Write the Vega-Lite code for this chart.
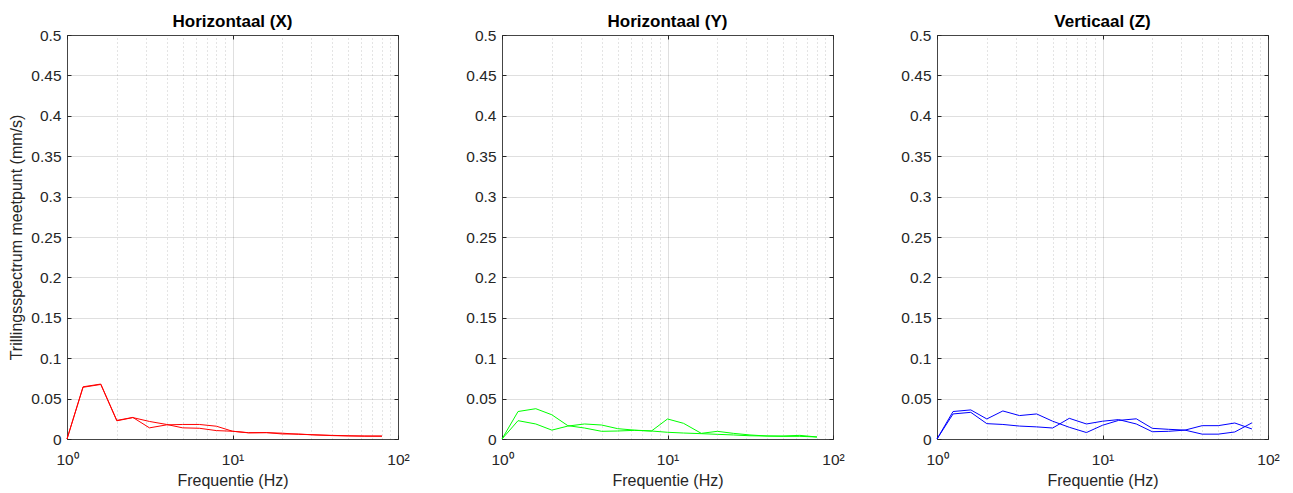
{
  "$schema": "https://vega.github.io/schema/vega-lite/v6.json",
  "background": "white",
  "padding": {"left": 8, "top": 12, "right": 5, "bottom": 5},
  "bounds": "flush",
  "spacing": 104,
  "datasets": {
    "X": [
      {"f":1,"s":"A","v":0},{"f":1.25,"s":"A","v":0.0646},{"f":1.6,"s":"A","v":0.068},{"f":2,"s":"A","v":0.023},{"f":2.5,"s":"A","v":0.0267},{"f":3.15,"s":"A","v":0.0138},{"f":4,"s":"A","v":0.0175},{"f":5,"s":"A","v":0.018},{"f":6.3,"s":"A","v":0.018},{"f":8,"s":"A","v":0.0158},{"f":10,"s":"A","v":0.0096},{"f":12.5,"s":"A","v":0.0078},{"f":16,"s":"A","v":0.008},{"f":20,"s":"A","v":0.0062},{"f":25,"s":"A","v":0.0062},{"f":31.5,"s":"A","v":0.005},{"f":40,"s":"A","v":0.0045},{"f":50,"s":"A","v":0.004},{"f":63,"s":"A","v":0.0037},{"f":80,"s":"A","v":0.0037},
      {"f":1,"s":"B","v":0},{"f":1.25,"s":"B","v":0.064},{"f":1.6,"s":"B","v":0.0675},{"f":2,"s":"B","v":0.0225},{"f":2.5,"s":"B","v":0.0265},{"f":3.15,"s":"B","v":0.0217},{"f":4,"s":"B","v":0.018},{"f":5,"s":"B","v":0.0138},{"f":6.3,"s":"B","v":0.0133},{"f":8,"s":"B","v":0.0104},{"f":10,"s":"B","v":0.0096},{"f":12.5,"s":"B","v":0.0076},{"f":16,"s":"B","v":0.0078},{"f":20,"s":"B","v":0.0072},{"f":25,"s":"B","v":0.0058},{"f":31.5,"s":"B","v":0.0052},{"f":40,"s":"B","v":0.0042},{"f":50,"s":"B","v":0.0038},{"f":63,"s":"B","v":0.0035},{"f":80,"s":"B","v":0.0034}
    ],
    "Y": [
      {"f":1,"s":"A","v":0},{"f":1.25,"s":"A","v":0.034},{"f":1.6,"s":"A","v":0.0375},{"f":2,"s":"A","v":0.03},{"f":2.5,"s":"A","v":0.0165},{"f":3.15,"s":"A","v":0.0136},{"f":4,"s":"A","v":0.0095},{"f":5,"s":"A","v":0.0099},{"f":6.3,"s":"A","v":0.0107},{"f":8,"s":"A","v":0.0099},{"f":10,"s":"A","v":0.0248},{"f":12.5,"s":"A","v":0.0194},{"f":16,"s":"A","v":0.007},{"f":20,"s":"A","v":0.0095},{"f":25,"s":"A","v":0.007},{"f":31.5,"s":"A","v":0.005},{"f":40,"s":"A","v":0.0037},{"f":50,"s":"A","v":0.0037},{"f":63,"s":"A","v":0.0045},{"f":80,"s":"A","v":0.0025},
      {"f":1,"s":"B","v":0},{"f":1.25,"s":"B","v":0.0227},{"f":1.6,"s":"B","v":0.0186},{"f":2,"s":"B","v":0.011},{"f":2.5,"s":"B","v":0.016},{"f":3.15,"s":"B","v":0.0186},{"f":4,"s":"B","v":0.0173},{"f":5,"s":"B","v":0.0128},{"f":6.3,"s":"B","v":0.011},{"f":8,"s":"B","v":0.0099},{"f":10,"s":"B","v":0.0083},{"f":12.5,"s":"B","v":0.0074},{"f":16,"s":"B","v":0.0066},{"f":20,"s":"B","v":0.0058},{"f":25,"s":"B","v":0.005},{"f":31.5,"s":"B","v":0.004},{"f":40,"s":"B","v":0.0037},{"f":50,"s":"B","v":0.0033},{"f":63,"s":"B","v":0.0033},{"f":80,"s":"B","v":0.0025}
    ],
    "Z": [
      {"f":1,"s":"A","v":0},{"f":1.25,"s":"A","v":0.034},{"f":1.6,"s":"A","v":0.036},{"f":2,"s":"A","v":0.0248},{"f":2.5,"s":"A","v":0.0347},{"f":3.15,"s":"A","v":0.029},{"f":4,"s":"A","v":0.031},{"f":5,"s":"A","v":0.022},{"f":6.3,"s":"A","v":0.0145},{"f":8,"s":"A","v":0.008},{"f":10,"s":"A","v":0.017},{"f":12.5,"s":"A","v":0.023},{"f":16,"s":"A","v":0.025},{"f":20,"s":"A","v":0.0132},{"f":25,"s":"A","v":0.012},{"f":31.5,"s":"A","v":0.011},{"f":40,"s":"A","v":0.0165},{"f":50,"s":"A","v":0.0165},{"f":63,"s":"A","v":0.0198},{"f":80,"s":"A","v":0.0124},
      {"f":1,"s":"B","v":0},{"f":1.25,"s":"B","v":0.031},{"f":1.6,"s":"B","v":0.033},{"f":2,"s":"B","v":0.019},{"f":2.5,"s":"B","v":0.018},{"f":3.15,"s":"B","v":0.016},{"f":4,"s":"B","v":0.015},{"f":5,"s":"B","v":0.0136},{"f":6.3,"s":"B","v":0.0256},{"f":8,"s":"B","v":0.0186},{"f":10,"s":"B","v":0.022},{"f":12.5,"s":"B","v":0.024},{"f":16,"s":"B","v":0.0186},{"f":20,"s":"B","v":0.009},{"f":25,"s":"B","v":0.0095},{"f":31.5,"s":"B","v":0.011},{"f":40,"s":"B","v":0.006},{"f":50,"s":"B","v":0.006},{"f":63,"s":"B","v":0.0087},{"f":80,"s":"B","v":0.02}
    ]
  },
  "config": {
    "font": "Liberation Sans",
    "view": {"stroke": "#4a4a4a", "strokeWidth": 1},
    "axis": {
      "labelFont": "Liberation Sans", "labelFontSize": 15.5, "labelColor": "#262626", "labelFlush": false,
      "titleFont": "Liberation Sans", "titleFontSize": 16, "titleFontWeight": "normal", "titleColor": "#262626",
      "gridColor": "#262626", "gridOpacity": 0.15, "gridWidth": 1,
      "tickColor": "#262626", "tickSize": -4, "tickWidth": 1,
      "domain": false
    },
    "title": {"font": "Liberation Sans", "fontSize": 17, "fontWeight": "bold", "color": "#000000", "offset": -3}
  },
  "hconcat": [
    {
      "title": "Horizontaal (X)",
      "width": 331, "height": 404,
      "data": {"name": "X"},
      "layer": [
        {"mark": {"type": "line", "opacity": 0},
         "encoding": {
           "x": {"field": "f", "type": "quantitative", "scale": {"type": "log", "domain": [1, 100], "nice": false},
                 "axis": {"orient": "top", "values": [2,3,4,5,6,7,8,9,20,30,40,50,60,70,80,90], "grid": true, "gridDash": [1,3], "gridOpacity": 0.25, "ticks": false, "labels": false, "title": null}},
           "y": {"field": "v", "type": "quantitative", "scale": {"domain": [0, 0.5], "nice": false}, "axis": null}}},
        {"mark": {"type": "line", "opacity": 0},
         "encoding": {
           "x": {"field": "f", "type": "quantitative", "scale": {"type": "log", "domain": [1, 100], "nice": false},
                 "axis": {"orient": "top", "values": [1,10,100], "grid": false, "labels": false, "title": null}},
           "y": {"field": "v", "type": "quantitative", "scale": {"domain": [0, 0.5], "nice": false},
                 "axis": {"orient": "right", "values": [0,0.05,0.1,0.15,0.2,0.25,0.3,0.35,0.4,0.45,0.5], "grid": false, "labels": false, "title": null}}}},
        {"mark": {"type": "line", "color": "#ff0000", "strokeWidth": 1},
         "encoding": {
           "x": {"field": "f", "type": "quantitative", "scale": {"type": "log", "domain": [1, 100], "nice": false},
                 "axis": {"orient": "bottom", "values": [1,10,100], "grid": true, "labelPadding": 17, "titlePadding": 5,
                          "labelExpr": "datum.value == 1 ? '10⁰' : datum.value == 10 ? '10¹' : '10²'", "title": "Frequentie (Hz)"}},
           "y": {"field": "v", "type": "quantitative", "scale": {"domain": [0, 0.5], "nice": false},
                 "axis": {"orient": "left", "values": [0,0.05,0.1,0.15,0.2,0.25,0.3,0.35,0.4,0.45,0.5], "grid": true, "format": "~g", "labelPadding": 10, "titlePadding": 6,
                          "title": "Trillingsspectrum meetpunt (mm/s)"}},
           "detail": {"field": "s"}}}
      ],
      "resolve": {"axis": {"x": "independent", "y": "independent"}}
    },
    {
      "title": "Horizontaal (Y)",
      "width": 331, "height": 404,
      "data": {"name": "Y"},
      "layer": [
        {"mark": {"type": "line", "opacity": 0},
         "encoding": {
           "x": {"field": "f", "type": "quantitative", "scale": {"type": "log", "domain": [1, 100], "nice": false},
                 "axis": {"orient": "top", "values": [2,3,4,5,6,7,8,9,20,30,40,50,60,70,80,90], "grid": true, "gridDash": [1,3], "gridOpacity": 0.25, "ticks": false, "labels": false, "title": null}},
           "y": {"field": "v", "type": "quantitative", "scale": {"domain": [0, 0.5], "nice": false}, "axis": null}}},
        {"mark": {"type": "line", "opacity": 0},
         "encoding": {
           "x": {"field": "f", "type": "quantitative", "scale": {"type": "log", "domain": [1, 100], "nice": false},
                 "axis": {"orient": "top", "values": [1,10,100], "grid": false, "labels": false, "title": null}},
           "y": {"field": "v", "type": "quantitative", "scale": {"domain": [0, 0.5], "nice": false},
                 "axis": {"orient": "right", "values": [0,0.05,0.1,0.15,0.2,0.25,0.3,0.35,0.4,0.45,0.5], "grid": false, "labels": false, "title": null}}}},
        {"mark": {"type": "line", "color": "#00ff00", "strokeWidth": 1},
         "encoding": {
           "x": {"field": "f", "type": "quantitative", "scale": {"type": "log", "domain": [1, 100], "nice": false},
                 "axis": {"orient": "bottom", "values": [1,10,100], "grid": true, "labelPadding": 17, "titlePadding": 5,
                          "labelExpr": "datum.value == 1 ? '10⁰' : datum.value == 10 ? '10¹' : '10²'", "title": "Frequentie (Hz)"}},
           "y": {"field": "v", "type": "quantitative", "scale": {"domain": [0, 0.5], "nice": false},
                 "axis": {"orient": "left", "values": [0,0.05,0.1,0.15,0.2,0.25,0.3,0.35,0.4,0.45,0.5], "grid": true, "format": "~g", "labelPadding": 10, "title": null}},
           "detail": {"field": "s"}}}
      ],
      "resolve": {"axis": {"x": "independent", "y": "independent"}}
    },
    {
      "title": "Verticaal (Z)",
      "width": 331, "height": 404,
      "data": {"name": "Z"},
      "layer": [
        {"mark": {"type": "line", "opacity": 0},
         "encoding": {
           "x": {"field": "f", "type": "quantitative", "scale": {"type": "log", "domain": [1, 100], "nice": false},
                 "axis": {"orient": "top", "values": [2,3,4,5,6,7,8,9,20,30,40,50,60,70,80,90], "grid": true, "gridDash": [1,3], "gridOpacity": 0.25, "ticks": false, "labels": false, "title": null}},
           "y": {"field": "v", "type": "quantitative", "scale": {"domain": [0, 0.5], "nice": false}, "axis": null}}},
        {"mark": {"type": "line", "opacity": 0},
         "encoding": {
           "x": {"field": "f", "type": "quantitative", "scale": {"type": "log", "domain": [1, 100], "nice": false},
                 "axis": {"orient": "top", "values": [1,10,100], "grid": false, "labels": false, "title": null}},
           "y": {"field": "v", "type": "quantitative", "scale": {"domain": [0, 0.5], "nice": false},
                 "axis": {"orient": "right", "values": [0,0.05,0.1,0.15,0.2,0.25,0.3,0.35,0.4,0.45,0.5], "grid": false, "labels": false, "title": null}}}},
        {"mark": {"type": "line", "color": "#0000ff", "strokeWidth": 1},
         "encoding": {
           "x": {"field": "f", "type": "quantitative", "scale": {"type": "log", "domain": [1, 100], "nice": false},
                 "axis": {"orient": "bottom", "values": [1,10,100], "grid": true, "labelPadding": 17, "titlePadding": 5,
                          "labelExpr": "datum.value == 1 ? '10⁰' : datum.value == 10 ? '10¹' : '10²'", "title": "Frequentie (Hz)"}},
           "y": {"field": "v", "type": "quantitative", "scale": {"domain": [0, 0.5], "nice": false},
                 "axis": {"orient": "left", "values": [0,0.05,0.1,0.15,0.2,0.25,0.3,0.35,0.4,0.45,0.5], "grid": true, "format": "~g", "labelPadding": 10, "title": null}},
           "detail": {"field": "s"}}}
      ],
      "resolve": {"axis": {"x": "independent", "y": "independent"}}
    }
  ]
}
